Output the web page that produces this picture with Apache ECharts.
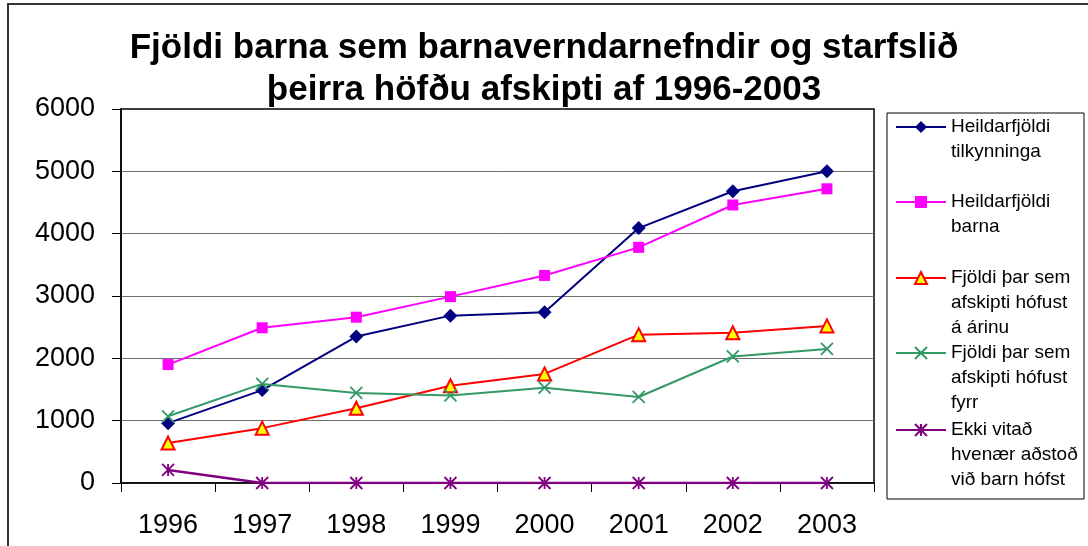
<!DOCTYPE html>
<html>
<head>
<meta charset="utf-8">
<script src="https://cdn.jsdelivr.net/npm/echarts@6/dist/echarts.min.js"></script>
<style>
  html, body { margin: 0; padding: 0; background: #fff; }
  #chart { width: 1088px; height: 546px; }
</style>
</head>
<body>
<div id="chart"></div>
<script>
var years = ['1996', '1997', '1998', '1999', '2000', '2001', '2002', '2003'];
var tilkynningar = [960, 1490, 2350, 2685, 2740, 4090, 4680, 5000];
var heildarBorn = [1900, 2490, 2660, 2990, 3330, 3780, 4460, 4720];
var hofustArinu = [640, 880, 1200, 1560, 1750, 2380, 2410, 2520];
var hofustFyrr = [1070, 1590, 1445, 1405, 1530, 1380, 2030, 2150];
var ekkiVitad = [210, 0, 0, 0, 0, 0, 0, 0];
var names = [
  'Heildarfjöldi\ntilkynninga',
  'Heildarfjöldi\nbarna',
  'Fjöldi þar sem\nafskipti hófust\ná árinu',
  'Fjöldi þar sem\nafskipti hófust\nfyrr',
  'Ekki vitað\nhvenær aðstoð\nvið barn hófst'
];
var yTicks = [0, 6000, 1000]; // min, max, interval

var FONT = '"Liberation Sans", Arial, sans-serif';
var LH = 25; // legend line height
var legendRows = [127, 202, 278, 353, 430]; // first line centre of each legend entry

var chart = echarts.init(document.getElementById('chart'));

// one legend per entry; blank lines in front keep the icon on the first text line
var legends = names.map(function (n, i) {
  var lines = n.split('\n').length;
  var h = (2 * lines - 1) * LH;
  var pad = new Array(lines).join('\n');
  return {
    data: [n],
    orient: 'vertical',
    left: 895,
    top: legendRows[i] - h / 2,
    padding: 0,
    itemWidth: 50,
    itemHeight: 15,
    selectedMode: false,
    formatter: function (name) { return pad + name; },
    textStyle: {
      fontFamily: FONT,
      fontSize: 19,
      color: '#000',
      lineHeight: LH
    }
  };
});

var option = {
  animation: false,
  backgroundColor: '#fff',
  title: {
    text: 'Fjöldi barna sem barnaverndarnefndir og starfslið\nþeirra höfðu afskipti af 1996-2003',
    left: 'center',
    top: 27,
    padding: 0,
    textStyle: {
      fontFamily: FONT,
      fontSize: 35,
      fontWeight: 'bold',
      color: '#000',
      lineHeight: 42
    }
  },
  legend: legends,
  grid: {
    left: 121,
    right: 214,
    top: 109,
    bottom: 63,
    show: true,
    borderColor: '#000',
    borderWidth: 1.5,
    backgroundColor: 'transparent'
  },
  xAxis: {
    type: 'category',
    data: years,
    boundaryGap: true,
    axisLine: { lineStyle: { color: '#000', width: 1.5 } },
    axisTick: { show: true, length: 9, lineStyle: { color: '#000', width: 1 } },
    axisLabel: { fontFamily: FONT, fontSize: 27, color: '#000', margin: 29 },
    splitLine: { show: false }
  },
  yAxis: {
    type: 'value',
    min: yTicks[0],
    max: yTicks[1],
    interval: yTicks[2],
    axisLine: { show: true, lineStyle: { color: '#000', width: 1.5 } },
    axisTick: { show: true, length: 9, lineStyle: { color: '#000', width: 1 } },
    axisLabel: {
      fontFamily: FONT, fontSize: 27, color: '#000', margin: 26,
      formatter: function (v) { return String(v); }
    },
    splitLine: { show: true, showMaxLine: false, lineStyle: { color: '#6e6e6e', width: 1 } }
  },
  series: [
    {
      name: names[0],
      type: 'line',
      data: tilkynningar,
      symbol: 'diamond',
      symbolSize: 14,
      lineStyle: { color: '#000080', width: 2 },
      itemStyle: { color: '#000080' }
    },
    {
      name: names[1],
      type: 'line',
      data: heildarBorn,
      symbol: 'rect',
      symbolSize: 11,
      lineStyle: { color: '#ff00ff', width: 2 },
      itemStyle: { color: '#ff00ff' }
    },
    {
      name: names[2],
      type: 'line',
      data: hofustArinu,
      symbol: 'triangle',
      symbolSize: 13,
      lineStyle: { color: '#ff0000', width: 2 },
      itemStyle: { color: '#ffff00', borderColor: '#ff0000', borderWidth: 2 }
    },
    {
      name: names[3],
      type: 'line',
      data: hofustFyrr,
      symbol: 'path://M0,0L10,10M10,0L0,10',
      symbolSize: 12,
      lineStyle: { color: '#339966', width: 2 },
      itemStyle: { color: '#339966', borderColor: '#339966', borderWidth: 1.8 }
    },
    {
      name: names[4],
      type: 'line',
      data: ekkiVitad,
      symbol: 'path://M0,0L10,10M10,0L0,10M5,0L5,10',
      symbolSize: 12,
      lineStyle: { color: '#800080', width: 2.5 },
      itemStyle: { color: '#800080', borderColor: '#800080', borderWidth: 1.8 }
    }
  ],
  graphic: [
    {
      type: 'rect',
      shape: { x: 887, y: 113, width: 197, height: 386 },
      style: { fill: 'none', stroke: '#000', lineWidth: 1 },
      z: 0
    },
    {
      type: 'rect',
      shape: { x: 8, y: 4, width: 1200, height: 700 },
      style: { fill: 'none', stroke: '#333', lineWidth: 2 },
      z: 0
    }
  ]
};

chart.setOption(option);
</script>
</body>
</html>
